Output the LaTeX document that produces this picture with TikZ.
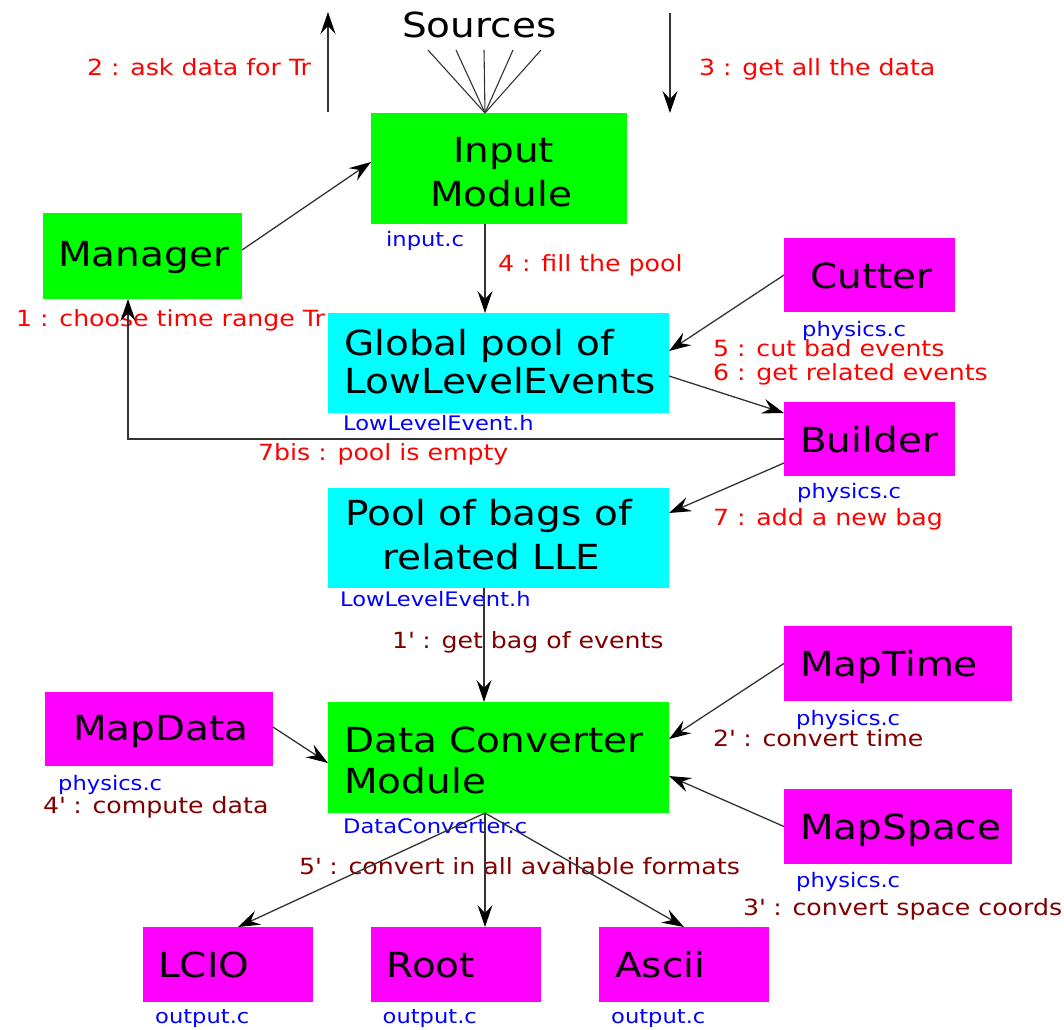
\documentclass[tikz,border=0pt]{standalone}
\usepackage{fontspec}
\setmainfont{DejaVu Sans}
\newfontfamily\dvs[FakeStretch=1.13]{DejaVu Sans}
\usetikzlibrary{arrows.meta,calc}
\definecolor{bxgreen}{HTML}{00FF00}
\definecolor{bxcyan}{HTML}{00FFFF}
\definecolor{bxmag}{HTML}{FF00FF}
\definecolor{fileblue}{HTML}{0000FF}
\definecolor{stepred}{HTML}{FF0000}
\definecolor{stepmaroon}{HTML}{800000}
\definecolor{linegray}{HTML}{333333}
\tikzset{
  box/.style={draw=none, inner sep=0pt, outer sep=0pt, rectangle},
  gbox/.style={box, fill=bxgreen},
  cbox/.style={box, fill=bxcyan},
  mbox/.style={box, fill=bxmag},
  bigtxt/.style={anchor=base west, inner sep=0pt, text=black, font=\dvs\fontsize{34.5}{41}\selectfont},
  filetxt/.style={anchor=base west, inner sep=0pt, text=fileblue, font=\dvs\fontsize{20}{24}\selectfont},
  redtxt/.style={anchor=base west, inner sep=0pt, text=stepred, font=\dvs\fontsize{22.3}{26}\selectfont},
  maroontxt/.style={anchor=base west, inner sep=0pt, text=stepmaroon, font=\dvs\fontsize{22.3}{26}\selectfont},
  conn/.style={draw=linegray, line width=1.3pt, -{Stealth[length=22pt,width=15pt,inset=8pt,color=black]}},
  fanline/.style={draw=linegray, line width=1.1pt},
}
\begin{document}
\begin{tikzpicture}[x=1pt, y=-1pt]
\fill[white] (0,0) rectangle (1064,1029);
\useasboundingbox (0,0) rectangle (1064,1029);

% boxes
\node[gbox, minimum width=199pt, minimum height=86pt] (mgr) at (142.5,256) {};
\node[gbox, minimum width=256pt, minimum height=111pt] (inp) at (499,168.5) {};
\node[cbox, minimum width=341pt, minimum height=100pt] (gpool) at (498.5,363) {};
\node[mbox, minimum width=171pt, minimum height=74pt] (cut) at (869.5,275) {};
\node[mbox, minimum width=171pt, minimum height=74pt] (bld) at (869.5,439) {};
\node[cbox, minimum width=341pt, minimum height=100pt] (bags) at (498.5,538) {};
\node[gbox, minimum width=341pt, minimum height=111pt] (dc) at (498.5,757.5) {};
\node[mbox, minimum width=228pt, minimum height=74pt] (mdata) at (159,729) {};
\node[mbox, minimum width=228pt, minimum height=75pt] (mtime) at (898,663.5) {};
\node[mbox, minimum width=228pt, minimum height=75pt] (mspace) at (898,826.5) {};
\node[mbox, minimum width=170pt, minimum height=75pt] (lcio) at (228,964.5) {};
\node[mbox, minimum width=170pt, minimum height=75pt] (root) at (456,964.5) {};
\node[mbox, minimum width=170pt, minimum height=75pt] (ascii) at (684,964.5) {};

% box titles
\node[bigtxt] (tsrc) at (402,37) {Sources};
\node[bigtxt] (tinp1) at (453,162) {Input};
\node[bigtxt] (tinp2) at (430,206) {Module};
\node[bigtxt] (tmgr) at (58,266) {Manager};
\node[bigtxt] (tgp1) at (344,355) {Global pool of};
\node[bigtxt] (tgp2) at (344,393) {LowLevelEvents};
\node[bigtxt] (tcut) at (810,288) {Cutter};
\node[bigtxt] (tbld) at (800,452) {Builder};
\node[bigtxt] (tbag1) at (345,525) {Pool of bags of};
\node[bigtxt] (tbag2) at (382,569) {related LLE};
\node[bigtxt] (tdc1) at (344,752) {Data Converter};
\node[bigtxt] (tdc2) at (344,793) {Module};
\node[bigtxt] (tmdata) at (73,740) {MapData};
\node[bigtxt] (tmtime) at (800,676) {MapTime};
\node[bigtxt] (tmspace) at (800,839) {MapSpace};
\node[bigtxt] (tlcio) at (158,977) {LCIO};
\node[bigtxt] (troot) at (386.5,977) {Root};
\node[bigtxt] (tascii) at (615,977) {Ascii};

% file names
\node[filetxt] (finp) at (386,246) {input.c};
\node[filetxt] (fcut) at (802,336) {physics.c};
\node[filetxt] (fgp) at (343,430) {LowLevelEvent.h};
\node[filetxt] (fbld) at (797,498) {physics.c};
\node[filetxt] (fbag) at (340,606) {LowLevelEvent.h};
\node[filetxt] (fmtime) at (796,725) {physics.c};
\node[filetxt] (fmdata) at (58,790) {physics.c};
\node[filetxt] (fdc) at (343,833) {DataConverter.c};
\node[filetxt] (fmspace) at (796,887) {physics.c};
\node[filetxt] (flcio) at (155,1023) {output.c};
\node[filetxt] (froot) at (382.5,1023) {output.c};
\node[filetxt] (fascii) at (611,1023) {output.c};

% step labels
\node[redtxt] (s2) at (87,75) {2 : ask data for Tr};
\node[redtxt] (s3) at (699,75) {3 : get all the data};
\node[redtxt] (s4) at (498,271) {4 : fill the pool};
\node[redtxt] (s1) at (16,326) {1 : choose time range Tr};
\node[redtxt] (s5) at (713,356) {5 : cut bad events};
\node[redtxt] (s6) at (713,380) {6 : get related events};
\node[redtxt] (s7b) at (258,460) {7bis : pool is empty};
\node[redtxt] (s7) at (713,525) {7 : add a new bag};
\node[maroontxt] (p1) at (392,648) {1\textquotesingle{} : get bag of events};
\node[maroontxt] (p2) at (713,746) {2\textquotesingle{} : convert time};
\node[maroontxt] (p4) at (43,813) {4\textquotesingle{} : compute data};
\node[maroontxt] (p5) at (299,874) {5\textquotesingle{} : convert in all available formats};
\node[maroontxt] (p3) at (743,915) {3\textquotesingle{} : convert space coords};

% free ends
\coordinate (upA) at (328,112);
\coordinate (upB) at (328,12);
\coordinate (dnA) at (670,13);
\coordinate (dnB) at (670,113);
\coordinate (f1) at (428,50);
\coordinate (f2) at (456,50);
\coordinate (f3) at (484,50);
\coordinate (f4) at (513,50);
\coordinate (f5) at (541,50);
\coordinate (fb) at ([xshift=-14pt]inp.north);

% sources fan
\foreach \f in {f1,f2,f3,f4,f5} \draw[fanline] (\f) -- (fb);

% connectors
\draw[conn] (upA) -- (upB);
\draw[conn] (dnA) -- (dnB);
\draw[conn] ([yshift=6pt]mgr.east) -- ([yshift=6.5pt]inp.west);
\draw[conn] ([xshift=-14pt]inp.south) -- ([xshift=-13.5pt]gpool.north);
\draw[conn] (cut.west) -- ([yshift=12pt]gpool.east);
\draw[conn] ([yshift=-13pt]gpool.east) -- ([yshift=26pt]bld.west);
\draw[conn] (bld.west) -| ([xshift=-14.5pt]mgr.south);
\draw[conn] ([yshift=-24pt]bld.west) -- ([yshift=25pt]bags.east);
\draw[conn] ([xshift=-14.5pt]bags.south) -- ([xshift=-14.5pt]dc.north);
\draw[conn] ([yshift=2pt]mdata.east) -- ([yshift=-5.5pt]dc.west);
\draw[conn] (mtime.west) -- ([yshift=18.5pt]dc.east);
\draw[conn] (mspace.west) -- ([yshift=-18.5pt]dc.east);
\draw[conn] ([xshift=-13.5pt]dc.south) -- ([xshift=10pt]lcio.north);
\draw[conn] ([xshift=-13.5pt]dc.south) -- ([xshift=29pt]root.north);
\draw[conn] ([xshift=-13.5pt]dc.south) -- (ascii.north);
\end{tikzpicture}
\end{document}
